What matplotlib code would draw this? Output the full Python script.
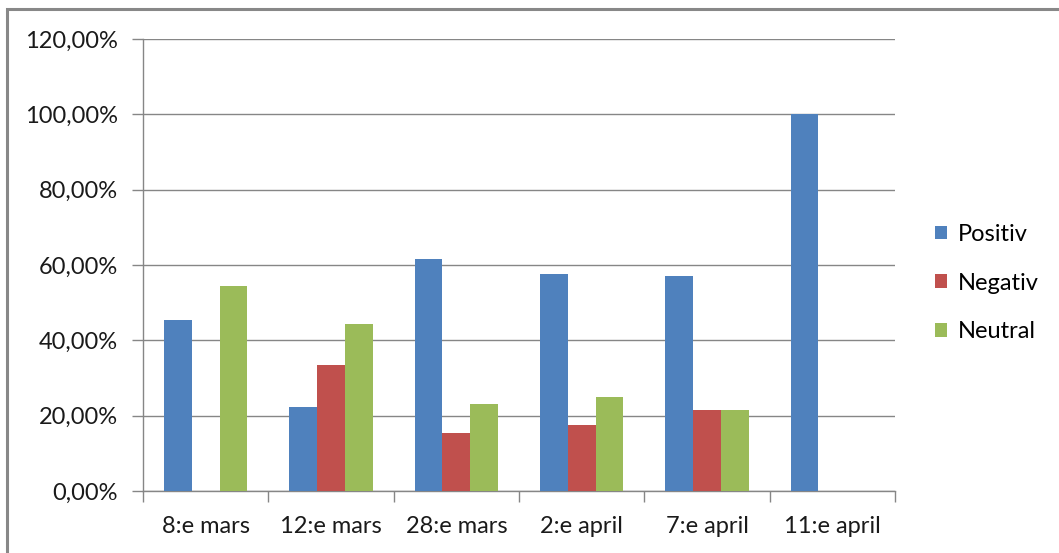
import matplotlib
matplotlib.use("Agg")
import matplotlib.pyplot as plt
import numpy as np
from matplotlib.ticker import FuncFormatter
from matplotlib.patches import Rectangle

categories = ["8:e mars", "12:e mars", "28:e mars", "2:e april", "7:e april", "11:e april"]
positiv = [45.45, 22.22, 61.54, 57.50, 57.14, 100.0]
negativ = [0.0, 33.33, 15.38, 17.50, 21.43, 0.0]
neutral = [54.55, 44.44, 23.08, 25.00, 21.43, 0.0]
series_names = ["Positiv", "Negativ", "Neutral"]
colors = ["#4F81BD", "#C0504D", "#9BBB59"]
yticks = [0, 20, 40, 60, 80, 100, 120]

plt.rcParams['font.family'] = ['Lato', 'DejaVu Sans']

W, H = 1059, 553
fig = plt.figure(figsize=(W / 100, H / 100), dpi=100)
fig.patches.append(Rectangle((7 / W, -0.1), 1.2, (H - 9) / H + 0.1, transform=fig.transFigure,
                             fill=False, edgecolor="#888888", linewidth=2.2, zorder=0))

ax = fig.add_axes([143 / W, (H - 491) / H, (895 - 143) / W, (491 - 39) / H])
x = np.arange(len(categories))
bw = 1 / 4.5
for i, (vals, name, c) in enumerate(zip([positiv, negativ, neutral], series_names, colors)):
    ax.bar(x + (i - 1) * bw, vals, width=bw, color=c, label=name, zorder=3)

ax.set_xlim(-0.5, len(categories) - 0.5)
ax.set_ylim(0, 120)
ax.set_yticks(yticks)
ax.yaxis.set_major_formatter(FuncFormatter(lambda v, p: f"{v:.2f}".replace(".", ",") + "%"))
ax.set_xticks(x)
ax.set_xticklabels(categories)
ax.set_xticks(np.arange(-0.5, len(categories)), minor=True)
ax.tick_params(axis="x", which="major", length=0, pad=18, labelsize=17, colors="#1a1a1a")
ax.tick_params(axis="x", which="minor", length=8, width=1, color="#868686")
ax.tick_params(axis="y", length=8, width=1, color="#868686", labelsize=17, labelcolor="#1a1a1a", pad=10)
ax.grid(axis="y", color="#868686", linewidth=1, zorder=0)
for s in ["top", "right"]:
    ax.spines[s].set_visible(False)
for s in ["left", "bottom"]:
    ax.spines[s].set_color("#868686")
    ax.spines[s].set_linewidth(1)

leg = ax.legend(loc="center left", bbox_to_anchor=(1.025, 0.46), frameon=False, fontsize=17,
                handlelength=0.5, handleheight=0.5, handletextpad=0.45, labelspacing=1.17)

fig.savefig("out.png", dpi=100)
